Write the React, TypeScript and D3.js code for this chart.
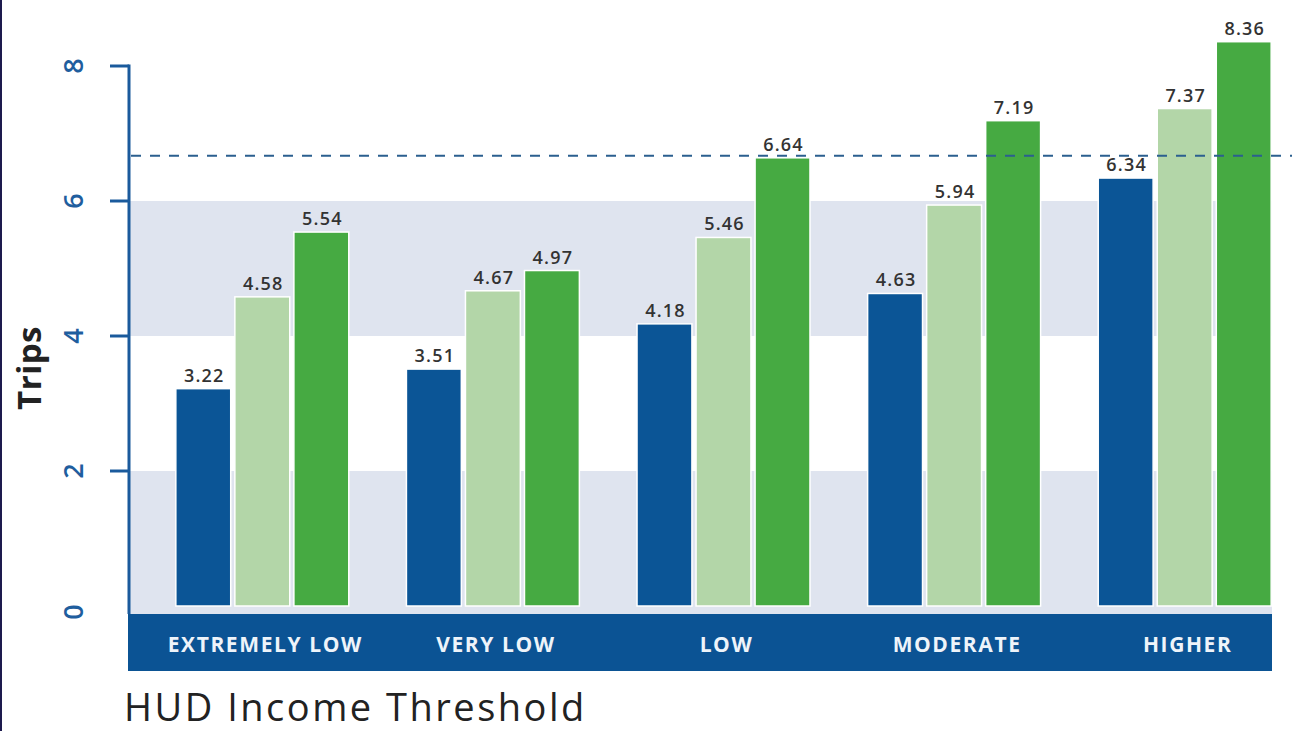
import React, { useEffect, useRef } from 'react';
import * as d3 from 'd3';

const categories = ['EXTREMELY LOW', 'VERY LOW', 'LOW', 'MODERATE', 'HIGHER'];
const seriesKeys = ['series1', 'series2', 'series3'];
const series1 = [3.22, 3.51, 4.18, 4.63, 6.34];
const series2 = [4.58, 4.67, 5.46, 5.94, 7.37];
const series3 = [5.54, 4.97, 6.64, 7.19, 8.36];
const yTicks = [0, 2, 4, 6, 8];
const shadedRanges: [number, number][] = [[0, 2], [4, 6]];
const averageValue = 6.67;

const colors: Record<string, string> = {
  series1: '#0b5596',
  series2: '#b3d6a8',
  series3: '#46aa42',
};

const WIDTH = 1292;
const HEIGHT = 731;

export default function App() {
  const svgRef = useRef<SVGSVGElement>(null);

  useEffect(() => {
    if (!svgRef.current) return;
    const svg = d3.select(svgRef.current);
    svg.selectAll('*').remove();

    const axisX = 129;
    const plotRight = 1272;
    const bandTop = 614;
    const bandBottom = 671;

    const x0 = d3.scaleBand<string>()
      .domain(categories)
      .range([147, 1300])
      .paddingInner(0.25)
      .paddingOuter(0.125);

    const x1 = d3.scaleBand<string>()
      .domain(seriesKeys)
      .range([0, x0.bandwidth()])
      .paddingInner(0.07);

    const y = d3.scaleLinear()
      .domain([0, 8])
      .range([606, 66]);

    const rows = categories.map((c, i) => ({
      category: c,
      values: [series1[i], series2[i], series3[i]],
    }));

    // left frame edge
    svg.append('rect')
      .attr('x', 0).attr('y', 0)
      .attr('width', 2).attr('height', HEIGHT)
      .attr('fill', '#1d1a4e');

    // shaded bands
    svg.selectAll('rect.shade')
      .data(shadedRanges)
      .enter()
      .append('rect')
      .attr('class', 'shade')
      .attr('x', axisX)
      .attr('width', plotRight - axisX)
      .attr('y', d => y(d[1]))
      .attr('height', d => (d[0] === 0 ? bandTop : y(d[0])) - y(d[1]))
      .attr('fill', '#dfe4ef');

    // bars
    const groups = svg.selectAll('g.group')
      .data(rows)
      .enter()
      .append('g')
      .attr('class', 'group')
      .attr('transform', d => `translate(${x0(d.category)},0)`);

    groups.selectAll('rect')
      .data(d => d.values.map((v, j) => ({ key: seriesKeys[j], value: v })))
      .enter()
      .append('rect')
      .attr('x', d => x1(d.key) as number)
      .attr('y', d => y(d.value))
      .attr('width', x1.bandwidth())
      .attr('height', d => y(0) - y(d.value))
      .attr('fill', d => colors[d.key])
      .attr('stroke', '#fff')
      .attr('stroke-width', 1.5);

    groups.selectAll('text')
      .data(d => d.values.map((v, j) => ({ key: seriesKeys[j], value: v })))
      .enter()
      .append('text')
      .attr('x', d => (x1(d.key) as number) + x1.bandwidth() / 2 + 1)
      .attr('y', d => y(d.value) - 7)
      .attr('text-anchor', 'middle')
      .style('font-family', '"Open Sans", sans-serif')
      .style('font-size', '18px')
      .style('font-weight', 600)
      .style('letter-spacing', '1.2px')
      .style('fill', '#333')
      .text(d => d.value.toFixed(2));

    // average dashed line
    svg.append('line')
      .attr('x1', axisX + 2)
      .attr('x2', WIDTH)
      .attr('y1', y(averageValue))
      .attr('y2', y(averageValue))
      .attr('stroke', '#2b5f8f')
      .attr('stroke-width', 2)
      .attr('stroke-dasharray', '10,9');

    // y axis
    svg.append('line')
      .attr('x1', axisX).attr('x2', axisX)
      .attr('y1', y(8) - 1.5).attr('y2', bandTop)
      .attr('stroke', '#1a5a9c')
      .attr('stroke-width', 3);

    svg.selectAll('line.tick')
      .data(yTicks.filter(t => t > 0))
      .enter()
      .append('line')
      .attr('class', 'tick')
      .attr('x1', 110).attr('x2', axisX)
      .attr('y1', d => y(d)).attr('y2', d => y(d))
      .attr('stroke', '#1a5a9c')
      .attr('stroke-width', 3);

    svg.selectAll('text.ytick')
      .data(yTicks)
      .enter()
      .append('text')
      .attr('class', 'ytick')
      .attr('transform', d => `translate(83,${d === 0 ? y(d) + 6 : y(d)}) rotate(-90)`)
      .attr('text-anchor', 'middle')
      .style('font-family', '"Open Sans", sans-serif')
      .style('font-size', '27px')
      .style('font-weight', 600)
      .style('fill', '#1f5e9e')
      .text(d => String(d));

    svg.append('text')
      .attr('transform', `translate(41,368) rotate(-90)`)
      .attr('text-anchor', 'middle')
      .style('font-family', '"Open Sans", sans-serif')
      .style('font-size', '33px')
      .style('font-weight', 700)
      .style('letter-spacing', '0.5px')
      .style('fill', '#222')
      .text('Trips');

    // category band
    svg.append('rect')
      .attr('x', axisX - 1)
      .attr('y', bandTop)
      .attr('width', plotRight - axisX + 1)
      .attr('height', bandBottom - bandTop)
      .attr('fill', '#0b5394');

    svg.selectAll('text.cat')
      .data(categories)
      .enter()
      .append('text')
      .attr('class', 'cat')
      .attr('x', d => (x0(d) as number) + x0.bandwidth() / 2 + 3)
      .attr('y', 652)
      .attr('text-anchor', 'middle')
      .style('font-family', '"Open Sans", sans-serif')
      .style('font-size', '21px')
      .style('font-weight', 700)
      .style('letter-spacing', '1.6px')
      .style('fill', '#eef4fa')
      .text(d => d);

    svg.append('text')
      .attr('x', 124)
      .attr('y', 721)
      .style('font-family', '"Open Sans", sans-serif')
      .style('font-size', '38px')
      .style('font-weight', 400)
      .style('letter-spacing', '2.5px')
      .style('fill', '#222')
      .text('HUD Income Threshold');
  }, []);

  return (
    <svg
      ref={svgRef}
      width={WIDTH}
      height={HEIGHT}
      style={{ position: 'absolute', left: 0, top: 0, background: '#fff' }}
      role="img"
      aria-label="Trips by HUD income threshold"
    />
  );
}
